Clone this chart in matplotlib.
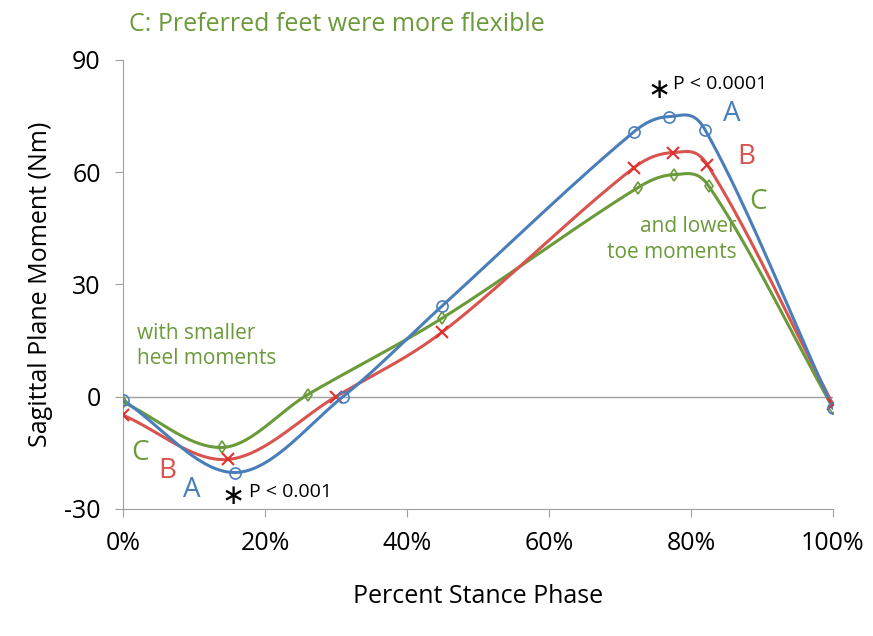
import numpy as np
import matplotlib
matplotlib.use("Agg")
import matplotlib.pyplot as plt

plt.rcParams['font.family'] = ['Open Sans', 'DejaVu Sans']
plt.rcParams['axes.unicode_minus'] = False

# percent stance phase and moment values (Nm)
x_a = [0, 15.8, 31, 45, 72, 76.9, 82, 100]
y_a = [-1, -20.3, 0, 24.3, 70.8, 74.8, 71.3, -3]
x_b = [0, 14.8, 30, 45, 72, 77.5, 82.3, 100]
y_b = [-5, -16.8, 0, 17.3, 61.2, 65.2, 62, -2]
x_c = [0, 14, 26, 45, 72.5, 77.6, 82.5, 100]
y_c = [-1.5, -13.6, 0.5, 21, 55.8, 59.3, 56.3, -3]

BLUE = '#4a7ebb'
RED = '#d9534f'
GREEN = '#6a9a3a'


def smooth(xs, ys, n=40):
    # cubic Hermite in x with central-difference slopes
    xs = np.asarray(xs, float)
    ys = np.asarray(ys, float)
    m = np.zeros_like(ys)
    m[0] = (ys[1] - ys[0]) / (xs[1] - xs[0])
    m[-1] = (ys[-1] - ys[-2]) / (xs[-1] - xs[-2])
    for i in range(1, len(xs) - 1):
        m[i] = (ys[i + 1] - ys[i - 1]) / (xs[i + 1] - xs[i - 1])
    ox, oy = [], []
    for i in range(len(xs) - 1):
        h = xs[i + 1] - xs[i]
        t = np.linspace(0, 1, n)
        h00 = 2 * t**3 - 3 * t**2 + 1
        h10 = t**3 - 2 * t**2 + t
        h01 = -2 * t**3 + 3 * t**2
        h11 = t**3 - t**2
        ox.append(xs[i] + t * h)
        oy.append(h00 * ys[i] + h10 * h * m[i] + h01 * ys[i + 1] + h11 * h * m[i + 1])
    return np.concatenate(ox), np.concatenate(oy)


fig = plt.figure(figsize=(8.73, 6.36), dpi=100)
ax = fig.add_axes([0.141, 0.2, 0.813, 0.706])

ax.axhline(0, color='#a0a0a0', lw=1, zorder=1)
for xs, ys, col, mk in [(x_c, y_c, GREEN, 'd'), (x_b, y_b, RED, 'x'), (x_a, y_a, BLUE, 'o')]:
    sx, sy = smooth(xs, ys)
    ax.plot(sx, sy, color=col, lw=2.2, zorder=3)
    if mk == 'x':
        ax.plot(xs, ys, ls='none', marker='x', color='#e03030', ms=8, mew=1.5, zorder=4)
    else:
        ax.plot(xs, ys, ls='none', marker=mk, mfc='none', mec=col, ms=8 if mk == 'o' else 6, mew=1.2, zorder=4)

ax.set_xlim(0, 100)
ax.set_ylim(-30, 90)
ax.set_xticks([0, 20, 40, 60, 80, 100])
ax.set_xticklabels(['0%', '20%', '40%', '60%', '80%', '100%'])
ax.set_yticks([-30, 0, 30, 60, 90])
for s in ['top', 'right']:
    ax.spines[s].set_visible(False)
for s in ['left', 'bottom']:
    ax.spines[s].set_color('#a0a0a0')
ax.tick_params(colors='#a0a0a0', labelcolor='black', labelsize=18, length=6, pad=10)
ax.set_xlabel('Percent Stance Phase', fontsize=18, labelpad=20)
ax.set_ylabel('Sagittal Plane Moment (Nm)', fontsize=18, labelpad=8)

fig.text(0.148, 0.962, 'C: Preferred feet were more flexible', color=GREEN, fontsize=18, va='center')
ax.text(2, 13.5, 'with smaller\nheel moments', color=GREEN, fontsize=15, va='center', linespacing=1.3)
ax.text(86.5, 42, 'and lower\ntoe moments', color=GREEN, fontsize=15, ha='right', va='center', linespacing=1.3)
ax.text(1.2, -15, 'C', color=GREEN, fontsize=20, va='center')
ax.text(5, -20, 'B', color=RED, fontsize=20, va='center')
ax.text(8.5, -25, 'A', color=BLUE, fontsize=20, va='center')
ax.text(84.5, 75.5, 'A', color=BLUE, fontsize=20, va='center')
ax.text(86.5, 64, 'B', color=RED, fontsize=20, va='center')
ax.text(88.2, 52, 'C', color=GREEN, fontsize=20, va='center')
ax.text(15.5, -26.5, '∗', fontsize=20, ha='center', va='center', family='DejaVu Sans')
ax.text(17.8, -25.5, 'P < 0.001', fontsize=14, va='center')
ax.text(75.5, 82, '∗', fontsize=20, ha='center', va='center', family='DejaVu Sans')
ax.text(77.5, 83.5, 'P < 0.0001', fontsize=14, va='center')

fig.savefig('out.png', dpi=100)
